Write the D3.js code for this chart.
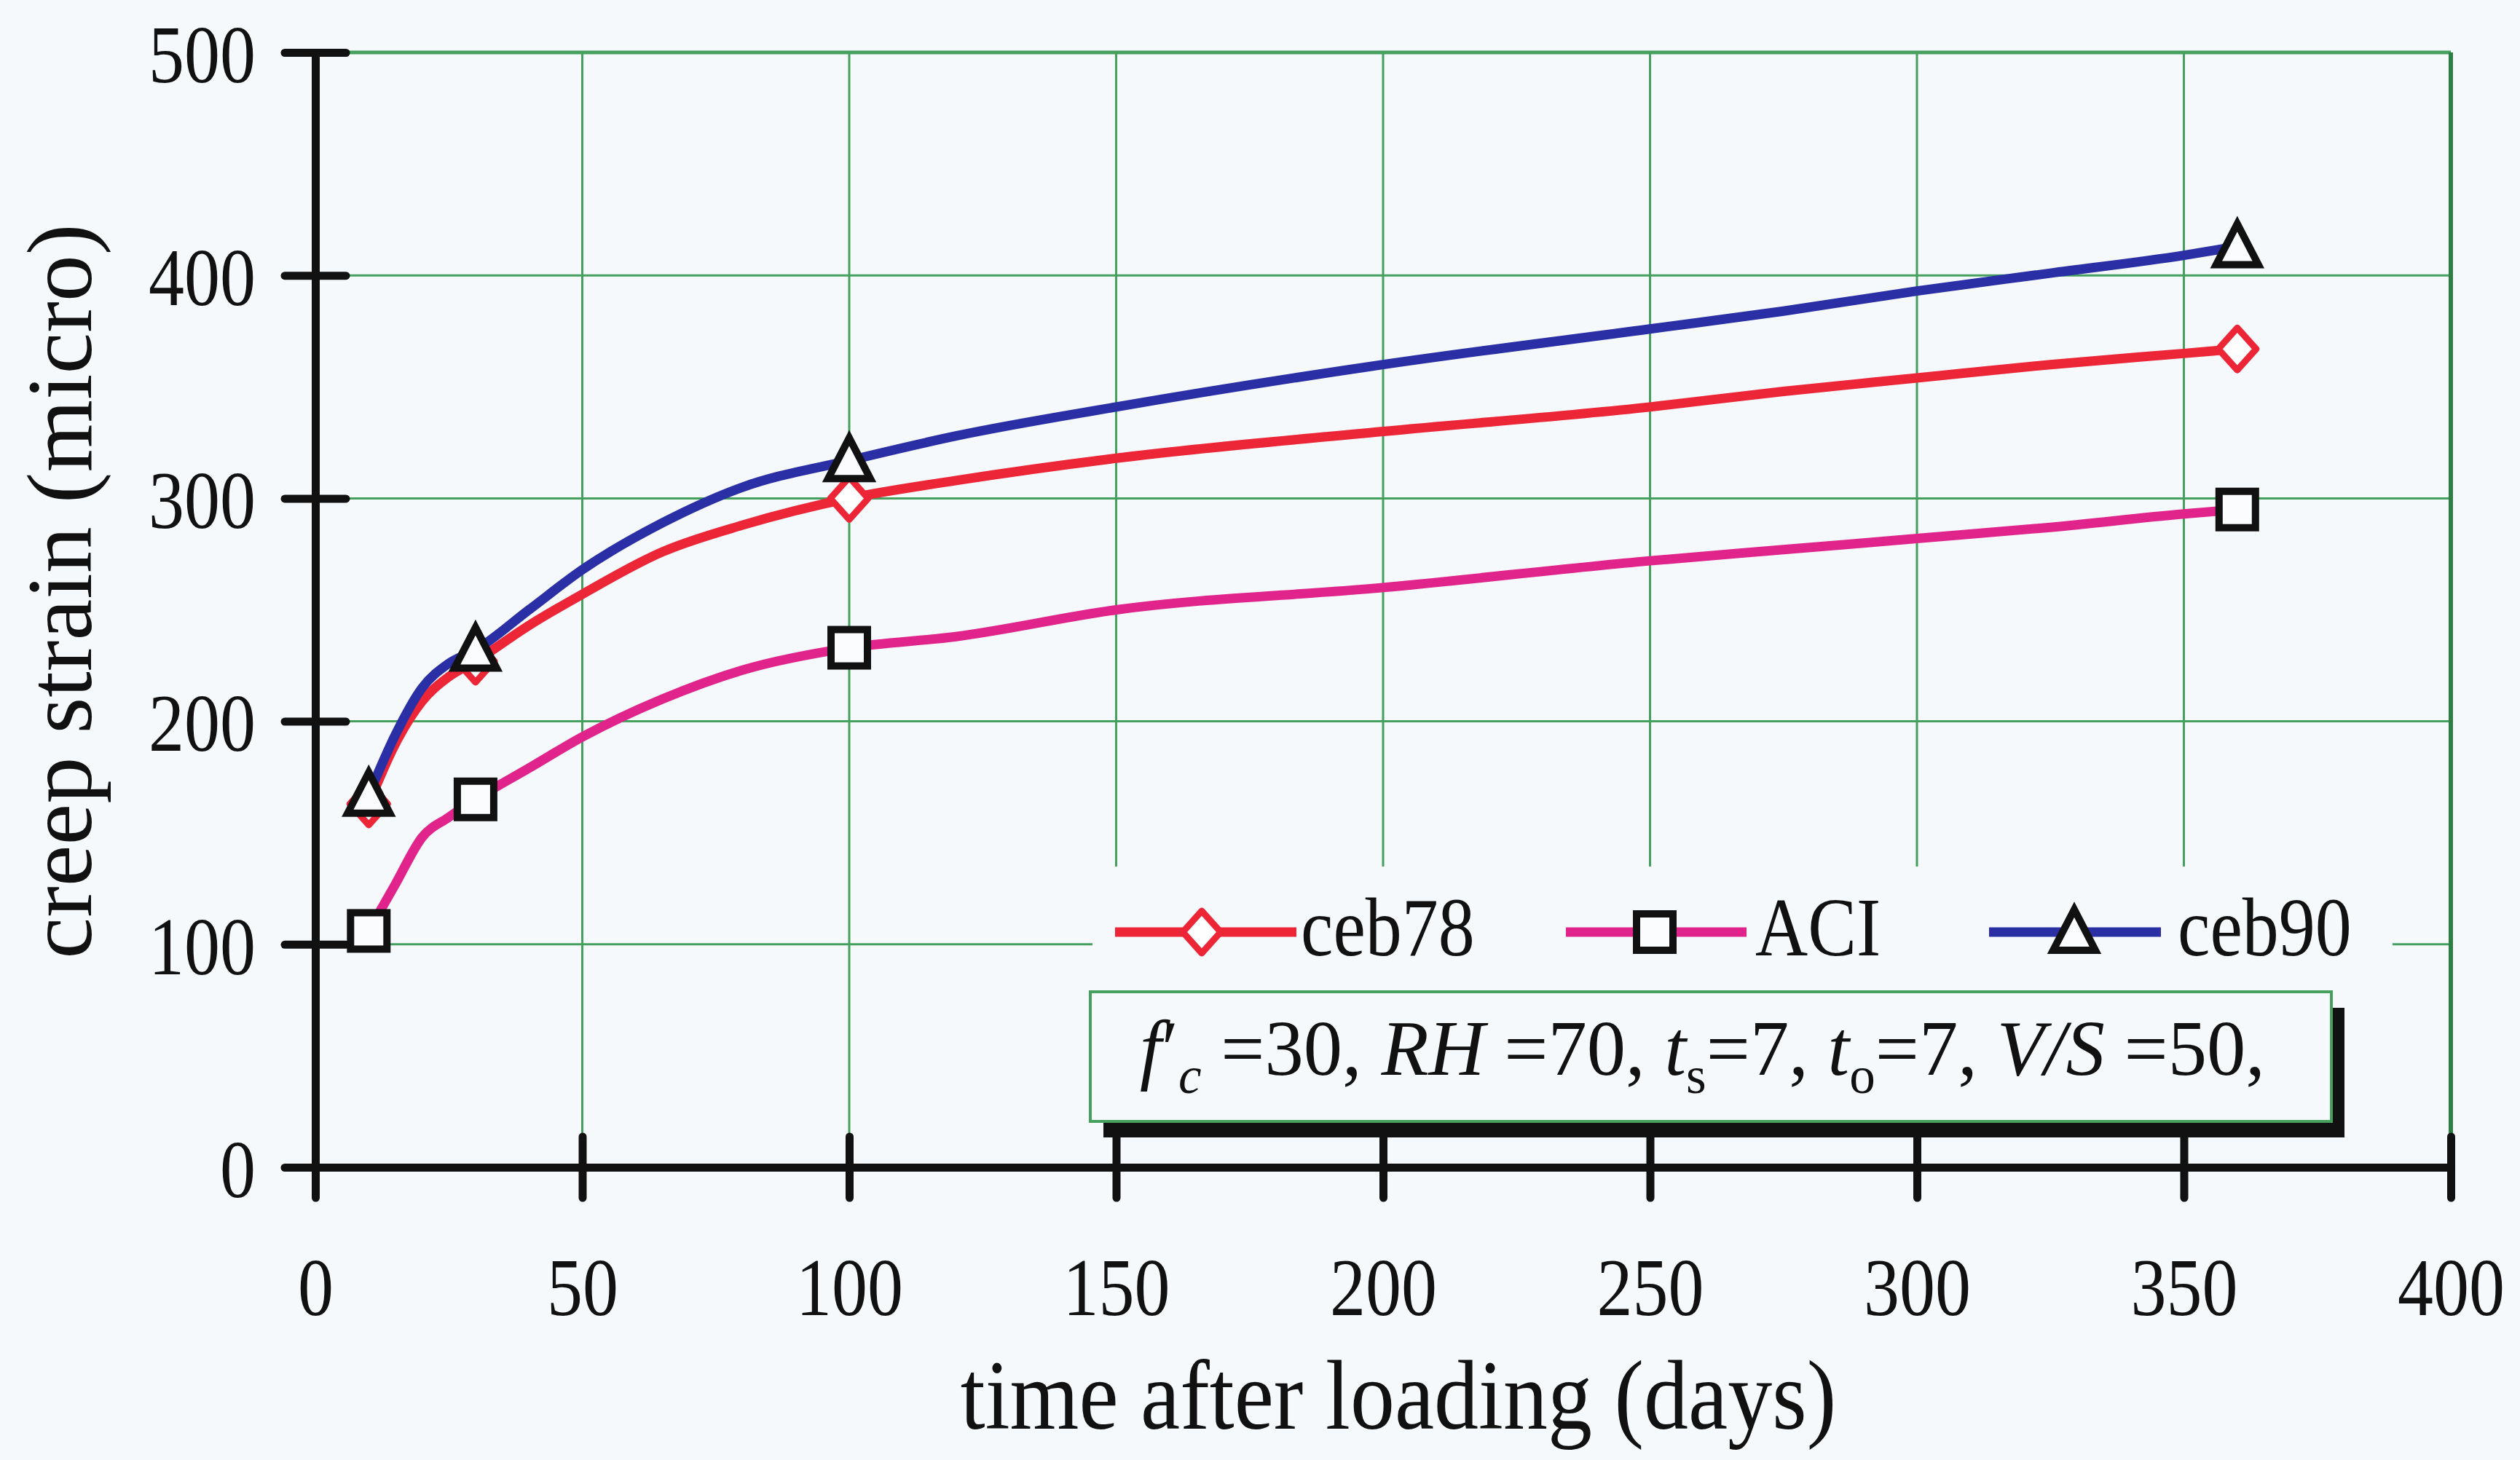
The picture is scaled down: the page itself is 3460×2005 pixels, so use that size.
<!DOCTYPE html>
<html>
<head>
<meta charset="utf-8">
<script src="https://d3js.org/d3.v7.min.js"></script>
<style>
  body { margin:0; background:#f6f9fc; }
  svg { display:block; }
  text { font-family:"Liberation Serif","Times New Roman",serif; fill:#111; }
</style>
</head>
<body>
<svg id="board" width="3460" height="2005"></svg>
<script>
// data
var days   = [10, 15, 20, 25, 30, 40, 50, 65, 80, 100, 120, 150, 200, 250, 275, 300, 325, 350, 360];
var ceb78  = [163, 190, 209, 220, 227, 243, 257, 276, 288, 300, 308, 318, 330, 341, 348, 354, 360, 365, 367];
var aci    = [106, 127, 148, 157, 165, 179, 193, 210, 223, 233, 238, 250, 260, 272, 277, 282, 287, 293, 295];
var ceb90  = [167, 194, 215, 226, 232, 250, 268, 289, 305, 317, 328, 341, 360, 376, 384, 393, 401, 409, 413];
var markerDays = [10, 30, 100, 360];
var xTicks = [0, 50, 100, 150, 200, 250, 300, 350, 400];
var yTicks = [0, 100, 200, 300, 400, 500];
var seriesNames = ["ceb78", "ACI", "ceb90"];

var BG = "#f6f9fc", GRID = "#45a05e", STRETCH = 1.15;
var colors = { ceb78:"#ec2636", ACI:"#e0248c", ceb90:"#2a2fa6" };

var board = d3.select("#board");
board.append("rect").attr("width",3460).attr("height",2005).attr("fill",BG);

var x = d3.scaleLinear().domain([0,400]).range([433,3365]);
var y = d3.scaleLinear().domain([0,500]).range([1603,72]);

// grid
board.append("g").selectAll("line").data(xTicks.slice(1,-1)).enter().append("line")
  .attr("x1",d=>x(d)).attr("x2",d=>x(d)).attr("y1",y(0)).attr("y2",y(500))
  .attr("stroke",GRID).attr("stroke-width",3);
board.append("g").selectAll("line").data(yTicks.slice(1,-1)).enter().append("line")
  .attr("x1",x(0)).attr("x2",x(400)).attr("y1",d=>y(d)).attr("y2",d=>y(d))
  .attr("stroke",GRID).attr("stroke-width",3);
board.append("line").attr("x1",x(0)).attr("x2",x(400)).attr("y1",y(500)).attr("y2",y(500))
  .attr("stroke",GRID).attr("stroke-width",5);
board.append("line").attr("x1",x(400)).attr("x2",x(400)).attr("y1",y(500)).attr("y2",y(0))
  .attr("stroke","#2f7f45").attr("stroke-width",6);

// markers
function marker(g, name, cx, cy)
{
  if(name=="ceb78")
    g.append("path").attr("d","M"+cx+","+(cy-29)+"L"+(cx+26)+","+cy+"L"+cx+","+(cy+29)+"L"+(cx-26)+","+cy+"Z")
      .attr("fill","#fff").attr("stroke",colors.ceb78).attr("stroke-width",9).attr("stroke-linejoin","round");
  else if(name=="ACI")
    g.append("rect").attr("x",cx-25).attr("y",cy-25).attr("width",50).attr("height",50)
      .attr("fill","#fafcfe").attr("stroke","#111").attr("stroke-width",10);
  else
    g.append("path").attr("d","M"+cx+","+(cy-31)+"L"+(cx+29)+","+(cy+25)+"L"+(cx-29)+","+(cy+25)+"Z")
      .attr("fill","#fafcfe").attr("stroke","#111").attr("stroke-width",10).attr("stroke-linejoin","miter");
}

var line = d3.line().x(d=>x(d[0])).y(d=>y(d[1])).curve(d3.curveMonotoneX);
var values = { ceb78:ceb78, ACI:aci, ceb90:ceb90 };
seriesNames.forEach(function(name)
{
  var pts = days.map((d,i)=>[d, values[name][i]]);
  var g = board.append("g");
  g.append("path").attr("d",line(pts)).attr("fill","none")
    .attr("stroke",colors[name]).attr("stroke-width",13).attr("stroke-linejoin","round");
  pts.filter(p=>markerDays.indexOf(p[0])>=0).forEach(p=>marker(g, name, x(p[0]), y(p[1])));
});

// axes
var yAxis = board.append("g").attr("transform","translate("+x(0)+",0)")
  .call(d3.axisLeft(y).tickValues(yTicks).tickSizeOuter(0).tickFormat(d3.format("d")));
yAxis.selectAll(".tick line").attr("x1",-42).attr("x2",42);
yAxis.selectAll(".tick text").attr("x",0).attr("dy","0.34em").style("font-size","98px")
  .attr("transform","translate(-82,2) scale(1,"+STRETCH+")");

var xAxis = board.append("g").attr("transform","translate(0,"+y(0)+")")
  .call(d3.axisBottom(x).tickValues(xTicks).tickSizeOuter(0).tickFormat(d3.format("d")));
xAxis.selectAll(".tick line").attr("y1",-42).attr("y2",42);
xAxis.selectAll(".tick text").attr("y",0).attr("dy",0).style("font-size","98px")
  .attr("transform","translate(0,203) scale(1,"+STRETCH+")");

board.selectAll(".domain, .tick line").attr("stroke","#111").attr("stroke-width",11).attr("stroke-linecap","round");
board.selectAll(".tick text").attr("fill","#111").style("font-family","Liberation Serif");

// axis titles
board.append("text").attr("transform","translate(125,812) rotate(-90)")
  .attr("text-anchor","middle").style("font-size","128px").text("creep strain (micro)");
board.append("text").attr("transform","translate(1920,1962) scale(1,1.12)")
  .attr("text-anchor","middle").style("font-size","122px").text("time after loading (days)");

// legend
var leg = board.append("g");
leg.append("rect").attr("x",1500).attr("y",1190).attr("width",1785).attr("height",172).attr("fill",BG);
var legItems = [
  {name:"ceb78", x1:1531, x2:1780, mx:1650, tx:1786},
  {name:"ACI",   x1:2150, x2:2398, mx:2272, tx:2410},
  {name:"ceb90", x1:2731, x2:2967, mx:2848, tx:2990}
];
legItems.forEach(function(it)
{
  leg.append("line").attr("x1",it.x1).attr("x2",it.x2).attr("y1",1280).attr("y2",1280)
    .attr("stroke",colors[it.name]).attr("stroke-width",13);
  marker(leg, it.name, it.mx, 1280);
  leg.append("text").attr("transform","translate("+it.tx+",1312) scale(1,"+STRETCH+")")
    .style("font-size","100px").text(it.name);
});

// annotation box
board.append("rect").attr("x",1515).attr("y",1384).attr("width",1704).attr("height",178).attr("fill","#111");
board.append("rect").attr("x",1497).attr("y",1362).attr("width",1704).attr("height",178)
  .attr("fill",BG).attr("stroke",GRID).attr("stroke-width",4);

var note = board.append("text").attr("x",0).attr("y",0).style("font-size","96px");
function part(t, italic, sub)
{
  var s = note.append("tspan").text(t);
  if(italic) s.style("font-style","italic");
  if(sub) s.style("font-size","64px").attr("dy",22);
  return s;
}
part("f", true); part("\u2032", false); part("c", true, true);
part(" =30, ", false).attr("dy",-22);
part("RH", true); part(" =70, ", false);
part("t", true); part("s", false, true); part("=7, ", false).attr("dy",-22);
part("t", true); part("o", false, true); part("=7, ", false).attr("dy",-22);
part("V/S", true); part(" =50,", false);
var nw = note.node().getComputedTextLength();
note.attr("transform","translate(1565,1476) scale("+(1545/nw)+",1.12)");
</script>
</body>
</html>
